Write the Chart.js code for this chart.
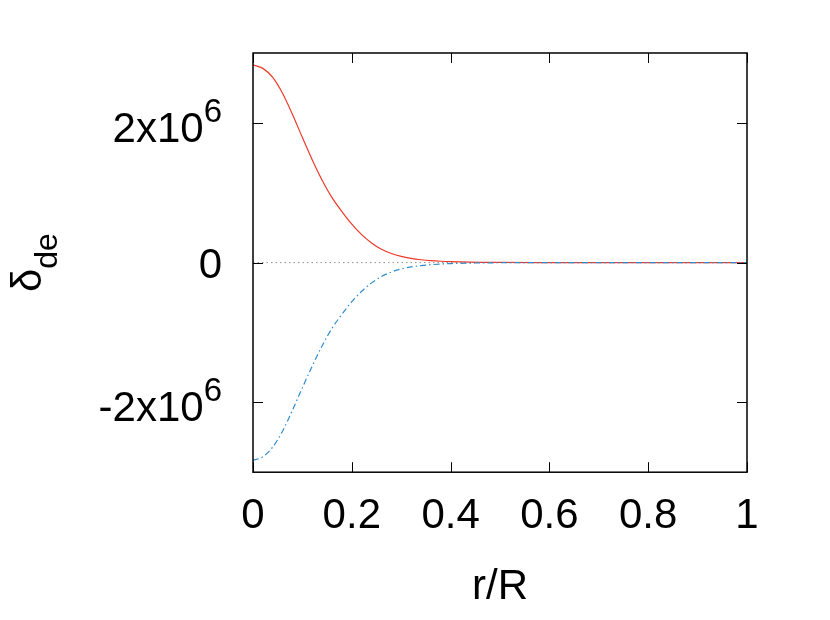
<!DOCTYPE html>
<html>
<head>
<meta charset="utf-8">
<script src="https://cdn.jsdelivr.net/npm/chart.js@4.4.1/dist/chart.umd.min.js"></script>
<style>
  html, body { margin: 0; padding: 0; background: #fff; }
  #wrap { width: 830px; height: 620px; }
</style>
</head>
<body>
<div id="wrap"><canvas id="deltaChart"></canvas></div>
<script>
// r/R sample points
const rValues = [0, 0.02, 0.04, 0.06, 0.08, 0.10, 0.12, 0.14, 0.16, 0.18,
  0.20, 0.22, 0.24, 0.26, 0.28, 0.30, 0.32, 0.34, 0.36, 0.38,
  0.40, 0.42, 0.44, 0.46, 0.48, 0.50, 0.6, 0.7, 0.8, 0.9, 1.0];

// red solid curve
const deltaPlus = [2.83e6, 2.78e6, 2.65e6, 2.42e6, 2.12e6, 1.79e6, 1.47e6, 1.18e6, 0.93e6, 0.73e6,
  0.55e6, 0.40e6, 0.28e6, 0.19e6, 0.13e6, 0.088e6, 0.06e6, 0.041e6, 0.028e6, 0.019e6,
  0.013e6, 0.009e6, 0.006e6, 0.004e6, 0.003e6, 0.002e6, 0.0005e6, 0, 0, 0, 0];

// blue dash-dot curve
const deltaMinus = [-2.83e6, -2.78e6, -2.64e6, -2.41e6, -2.11e6, -1.79e6, -1.48e6, -1.19e6, -0.94e6, -0.74e6,
  -0.56e6, -0.41e6, -0.29e6, -0.20e6, -0.135e6, -0.09e6, -0.062e6, -0.043e6, -0.03e6, -0.02e6,
  -0.014e6, -0.01e6, -0.007e6, -0.005e6, -0.003e6, -0.002e6, -0.0005e6, 0, 0, 0, 0];

const zeroLineX = [0, 1];
const xTicks = [0, 0.2, 0.4, 0.6, 0.8, 1];
const xTickLabels = ['0', '0.2', '0.4', '0.6', '0.8', '1'];
const yTicks = [-2e6, 0, 2e6];
const yExponent = 6;

const FONT = "'Liberation Sans', Arial, Helvetica, sans-serif";

function toPoints(xs, ys) {
  return xs.map((x, i) => ({ x: x, y: ys[i] }));
}

// frame, inward ticks, y tick labels with superscripts, y title with subscript
const framePlugin = {
  id: 'gnuFrame',
  afterDraw(chart) {
    const ctx = chart.ctx;
    const area = chart.chartArea;
    const xs = chart.scales.x;
    const ys = chart.scales.y;
    ctx.save();

    // ticks (mirrored, pointing inward)
    ctx.strokeStyle = '#000';
    ctx.lineWidth = 1;
    const tl = 10;
    ctx.beginPath();
    xTicks.forEach(v => {
      const px = Math.round(xs.getPixelForValue(v)) + 0.5;
      ctx.moveTo(px, area.bottom); ctx.lineTo(px, area.bottom - tl);
      ctx.moveTo(px, area.top); ctx.lineTo(px, area.top + tl);
    });
    yTicks.forEach(v => {
      const py = Math.round(ys.getPixelForValue(v)) + 0.5;
      ctx.moveTo(area.left, py); ctx.lineTo(area.left + tl, py);
      ctx.moveTo(area.right, py); ctx.lineTo(area.right - tl, py);
    });
    ctx.stroke();

    // border
    ctx.lineWidth = 1.5;
    ctx.strokeRect(area.left, area.top, area.right - area.left, area.bottom - area.top);

    // y tick labels
    ctx.fillStyle = '#000';
    const labelRight = area.left - 31;
    yTicks.forEach(v => {
      const py = ys.getPixelForValue(v);
      ctx.textAlign = 'right';
      ctx.textBaseline = 'alphabetic';
      if (v === 0) {
        ctx.font = '42px ' + FONT;
        ctx.fillText('0', labelRight, py + 15);
      } else {
        const mant = v / Math.pow(10, yExponent);
        ctx.font = '33px ' + FONT;
        const sup = String(yExponent);
        ctx.fillText(sup, labelRight, py - 1);
        const w = ctx.measureText(sup).width;
        ctx.font = '42px ' + FONT;
        ctx.fillText(mant + 'x10', labelRight - w, py + 19);
      }
    });

    // y axis title: delta with subscript "de"
    const cy = (area.top + area.bottom) / 2;
    ctx.translate(41, cy);
    ctx.rotate(-Math.PI / 2);
    ctx.textAlign = 'left';
    ctx.textBaseline = 'alphabetic';
    ctx.font = '42px ' + FONT;
    const wMain = ctx.measureText('\u03b4').width;
    ctx.font = '32px ' + FONT;
    const wSub = ctx.measureText('de').width;
    const start = -(wMain + wSub) / 2;
    ctx.font = '42px ' + FONT;
    ctx.fillText('\u03b4', start, 0);
    ctx.font = '32px ' + FONT;
    ctx.fillText('de', start + wMain, 16);

    ctx.restore();
  }
};

const ctx = document.getElementById('deltaChart').getContext('2d');
const chart = new Chart(ctx, {
  type: 'line',
  data: {
    datasets: [
      {
        label: 'minus',
        data: toPoints(rValues, deltaMinus),
        borderColor: '#2f8fce',
        borderWidth: 1.2,
        borderDash: [6, 3, 1.5, 3],
        pointRadius: 0,
        cubicInterpolationMode: 'monotone',
        fill: false
      },
      {
        label: 'plus',
        data: toPoints(rValues, deltaPlus),
        borderColor: '#ee3a2a',
        borderWidth: 1.2,
        pointRadius: 0,
        cubicInterpolationMode: 'monotone',
        fill: false
      },
      {
        label: 'zero',
        data: toPoints(zeroLineX, [0, 0]),
        borderColor: '#909090',
        borderWidth: 1,
        borderDash: [1.5, 3],
        pointRadius: 0,
        fill: false
      }
    ]
  },
  options: {
    responsive: true,
    maintainAspectRatio: false,
    animation: false,
    events: [],
    layout: {
      padding: { left: 253, right: 83, top: 53, bottom: 7 }
    },
    plugins: {
      legend: { display: false },
      tooltip: { enabled: false }
    },
    scales: {
      x: {
        type: 'linear',
        min: 0,
        max: 1,
        grid: { display: false, drawTicks: false },
        border: { display: false },
        ticks: {
          stepSize: 0.2,
          padding: 19,
          color: '#000',
          font: { family: FONT, size: 42 },
          maxRotation: 0,
          callback: (value) => {
            const i = xTicks.findIndex(t => Math.abs(t - value) < 1e-9);
            return i >= 0 ? xTickLabels[i] : '';
          }
        },
        title: {
          display: true,
          text: 'r/R',
          color: '#000',
          font: { family: FONT, size: 42 },
          padding: { top: 2, bottom: 0 }
        }
      },
      y: {
        type: 'linear',
        min: -3e6,
        max: 3e6,
        grid: { display: false, drawTicks: false },
        border: { display: false },
        ticks: { display: false, stepSize: 2e6 }
      }
    }
  },
  plugins: [framePlugin]
});
</script>
</body>
</html>
